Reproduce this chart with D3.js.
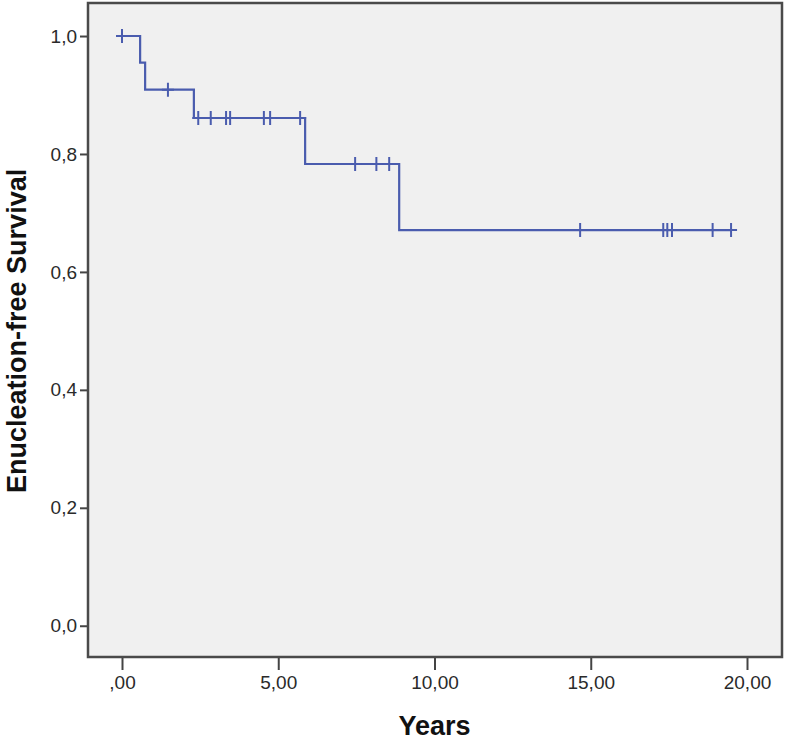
<!DOCTYPE html>
<html>
<head>
<meta charset="utf-8">
<script src="https://cdn.jsdelivr.net/npm/d3@7"></script>
<style>
  html, body { margin: 0; padding: 0; background: #ffffff; }
  svg { display: block; }
</style>
</head>
<body>
<svg id="chart" width="787" height="740"></svg>
<script>
// ---- data ----
const stepTimes    = [0, 0.58, 0.74, 2.30, 5.86, 8.87];
const stepSurvival = [1.0, 0.955, 0.909, 0.861, 0.783, 0.671];
const lastTime     = 19.49;

const censorTimes    = [0.0, 1.47, 2.44, 2.84, 3.33, 3.46, 4.54, 4.74, 5.70,
                        7.46, 8.14, 8.55, 14.66, 17.32, 17.45, 17.60, 18.90, 19.49];
const censorSurvival = [1.0, 0.909, 0.861, 0.861, 0.861, 0.861, 0.861, 0.861, 0.861,
                        0.783, 0.783, 0.783, 0.671, 0.671, 0.671, 0.671, 0.671, 0.671];

const xTicks = [0, 5, 10, 15, 20];
const xTickLabels = [",00", "5,00", "10,00", "15,00", "20,00"];
const yTicks = [0, 0.2, 0.4, 0.6, 0.8, 1.0];
const yTickLabels = ["0,0", "0,2", "0,4", "0,6", "0,8", "1,0"];

const xTitle = "Years";
const yTitle = "Enucleation-free Survival";

// ---- layout ----
const svg = d3.select("#chart");
const box = { left: 88, top: 3, right: 782, bottom: 657 };

const x = d3.scaleLinear().domain([-1.088, 21.12]).range([box.left, box.right]);
const y = d3.scaleLinear().domain([-0.053, 1.056]).range([box.bottom, box.top]);

const font = "'Liberation Sans', Arial, sans-serif";
const lineColor = "#4a5cae";

// plot background
svg.append("rect")
  .attr("x", box.left).attr("y", box.top)
  .attr("width", box.right - box.left).attr("height", box.bottom - box.top)
  .attr("fill", "#f0f0f0");

// axes
const xAxis = d3.axisBottom(x).tickValues(xTicks)
  .tickFormat((d, i) => xTickLabels[i]).tickSizeOuter(0).tickSizeInner(13).tickPadding(6);
const gx = svg.append("g").attr("transform", `translate(0,${box.bottom})`).call(xAxis);
gx.select(".domain").remove();
gx.selectAll(".tick line").attr("stroke", "#444").attr("stroke-width", 2);
gx.selectAll(".tick text").attr("font-family", font).attr("font-size", 19)
  .attr("fill", "#2a2a2a").attr("dy", "0.71em");

const yAxis = d3.axisLeft(y).tickValues(yTicks)
  .tickFormat((d, i) => yTickLabels[i]).tickSizeOuter(0).tickSizeInner(8).tickPadding(3);
const gy = svg.append("g").attr("transform", `translate(${box.left},0)`).call(yAxis);
gy.select(".domain").remove();
gy.selectAll(".tick line").attr("stroke", "#444").attr("stroke-width", 2);
gy.selectAll(".tick text").attr("font-family", font).attr("font-size", 19)
  .attr("fill", "#2a2a2a");

// frame
svg.append("rect")
  .attr("x", box.left).attr("y", box.top)
  .attr("width", box.right - box.left).attr("height", box.bottom - box.top)
  .attr("fill", "none").attr("stroke", "#4a4a4a").attr("stroke-width", 2.5);

// KM step curve
const pts = stepTimes.map((t, i) => [t, stepSurvival[i]]);
pts.push([lastTime, stepSurvival[stepSurvival.length - 1]]);
const line = d3.line().x(d => x(d[0])).y(d => y(d[1])).curve(d3.curveStepAfter);
svg.append("path").datum(pts)
  .attr("d", line).attr("fill", "none")
  .attr("stroke", lineColor).attr("stroke-width", 2.2);

// censor marks
const cs = censorTimes.map((t, i) => [t, censorSurvival[i]]);
svg.append("g").selectAll("path").data(cs).join("path")
  .attr("d", d => {
    const cx = x(d[0]), cy = y(d[1]);
    return `M${cx - 6},${cy}H${cx + 6}M${cx},${cy - 7}V${cy + 7}`;
  })
  .attr("stroke", lineColor).attr("stroke-width", 2).attr("fill", "none");

// titles
svg.append("text")
  .attr("x", (x(0) + x(20)) / 2).attr("y", 735)
  .attr("text-anchor", "middle")
  .attr("font-family", font).attr("font-weight", "bold").attr("font-size", 27)
  .attr("fill", "#111")
  .text(xTitle);

svg.append("text")
  .attr("transform", `translate(26,${(y(0) + y(1)) / 2}) rotate(-90)`)
  .attr("text-anchor", "middle")
  .attr("font-family", font).attr("font-weight", "bold").attr("font-size", 27)
  .attr("fill", "#111")
  .text(yTitle);
</script>
</body>
</html>
